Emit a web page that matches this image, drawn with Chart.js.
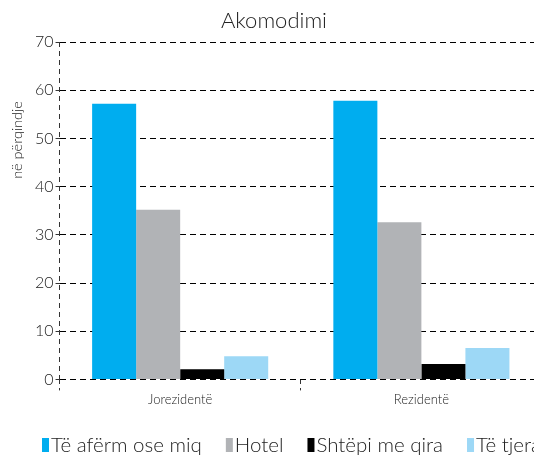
<!DOCTYPE html>
<html><head><meta charset="utf-8">
<script src="https://cdn.jsdelivr.net/npm/chart.js@4"></script>
<style>
html,body{margin:0;padding:0;background:#fff;overflow:hidden;}
#wrap{width:576px;height:456px;}
</style></head>
<body><div id="wrap"><canvas id="c" width="576" height="456"></canvas></div>
<script>
const categories = ["Jorezidentë", "Rezidentë"];
const seriesNames = ["Të afërm ose miq", "Hotel", "Shtëpi me qira", "Të tjera"];
const afermOseMiq = [57.2, 57.8];
const hotel = [35.2, 32.6];
const shtepiMeQira = [2.1, 3.2];
const teTjera = [4.8, 6.5];
const yTicks = [0, 10, 20, 30, 40, 50, 60, 70];
const colors = ["#00adef", "#b1b3b6", "#000000", "#9dd8f6"];
const chartTitle = "Akomodimi";
const yTitle = "në përqindje";
const FONT = "Lato";
const TEXT = "#222";

const textPlugin = {
  id: 'texts',
  afterDraw(chart) {
    const ctx = chart.ctx;
    ctx.save();
    // title
    ctx.font = "300 22px " + FONT;
    ctx.fillStyle = TEXT;
    ctx.textAlign = "center";
    ctx.textBaseline = "middle";
    ctx.fillText(chartTitle, 274, 21);
    // y axis title
    ctx.translate(17, 140);
    ctx.rotate(-Math.PI / 2);
    ctx.font = "300 14.5px " + FONT;
    ctx.fillText(yTitle, 0, 0);
    ctx.restore();
  }
};

const legendPlugin = {
  id: 'customLegend',
  afterDraw(chart) {
    const ctx = chart.ctx;
    ctx.save();
    ctx.font = "300 20.5px " + FONT;
    ctx.textBaseline = "alphabetic";
    ctx.textAlign = "left";
    let x = 42;
    const top = 438;
    chart.data.datasets.forEach((ds) => {
      ctx.fillStyle = ds.backgroundColor;
      ctx.fillRect(x, top, 7, 14);
      x += 9;
      ctx.fillStyle = TEXT;
      ctx.fillText(ds.label, x, 452);
      x += ctx.measureText(ds.label).width + 24;
    });
    ctx.restore();
  }
};

new Chart(document.getElementById('c'), {
  type: 'bar',
  data: {
    labels: categories,
    datasets: [afermOseMiq, hotel, shtepiMeQira, teTjera].map((d, i) => ({
      label: seriesNames[i], data: d, backgroundColor: colors[i],
      barPercentage: 1, categoryPercentage: 0.73, borderWidth: 0
    }))
  },
  options: {
    responsive: false, animation: false,
    layout: { padding: { left: 33, right: 34, top: 42, bottom: 46 } },
    plugins: {
      title: { display: false },
      legend: { display: false },
      tooltip: { enabled: false }
    },
    scales: {
      x: {
        offset: true,
        grid: { offset: true, drawOnChartArea: true, drawTicks: true, tickLength: 11,
          color: (c) => c.index === 0 ? "#333" : "rgba(0,0,0,0)",
          tickColor: "#333", tickBorderDash: [5, 4] },
        border: { display: false, dash: [5, 4] },
        ticks: { color: TEXT, font: { family: FONT, size: 13, weight: 300 }, padding: 2 }
      },
      y: {
        min: 0, max: 70,
        afterBuildTicks(axis) { axis.ticks = yTicks.map(v => ({ value: v })); },
        grid: { color: "#000", lineWidth: 1, tickLength: 4, drawTicks: true, tickColor: "#333" },
        border: { display: false, dash: [6, 4] },
        ticks: { color: TEXT, font: { family: FONT, size: 16, weight: 300 }, padding: 2 }
      }
    }
  },
  plugins: [textPlugin, legendPlugin]
});
</script></body></html>
